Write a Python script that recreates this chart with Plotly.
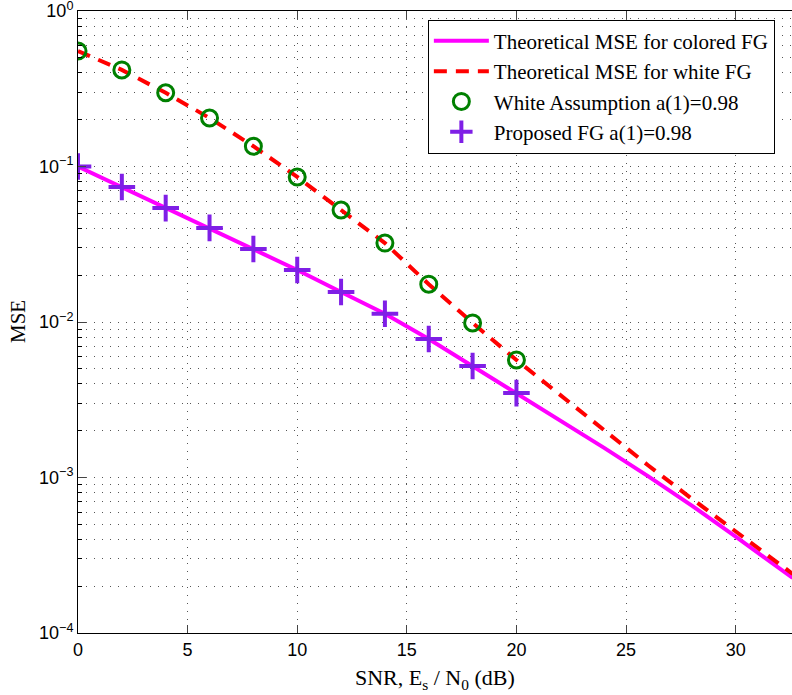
import plotly.graph_objects as go

# ---- data ----
snr_theory = [0, 2, 4, 6, 8, 10, 12, 14, 16, 18, 20, 22, 24, 26, 28, 30, 32, 32.6]
mse_colored_theory = [0.100, 0.0738, 0.0540, 0.0403, 0.0295, 0.0216, 0.0156, 0.0113,
                      0.00778, 0.00521, 0.00349, 0.00234, 0.00155, 0.00102, 0.00066,
                      0.000416, 0.000260, 0.000226]
mse_white_theory = [0.553, 0.418, 0.298, 0.205, 0.135, 0.0857, 0.0525, 0.0322,
                    0.0175, 0.00986, 0.0057, 0.00339, 0.00200, 0.00120, 0.00073,
                    0.000448, 0.000275, 0.000240]

snr_sim = [0, 2, 4, 6, 8, 10, 12, 14, 16, 18, 20]
mse_white_sim = [0.553, 0.418, 0.298, 0.205, 0.135, 0.0857, 0.0525, 0.0322,
                 0.0175, 0.00986, 0.0057]
mse_proposed_sim = [0.100, 0.0738, 0.0540, 0.0403, 0.0295, 0.0216, 0.0156, 0.0113,
                    0.00778, 0.00521, 0.00349]

x_ticks = [0, 5, 10, 15, 20, 25, 30]
y_ticks = [1e-4, 1e-3, 1e-2, 1e-1, 1]
y_tick_text = ["10<sup>−4</sup>", "10<sup>−3</sup>", "10<sup>−2</sup>",
               "10<sup>−1</sup>", "10<sup>0</sup>"]
y_minor = [m * 10 ** e for e in range(-4, 0) for m in range(2, 10)]

names = ["Theoretical MSE for colored FG", "Theoretical MSE for white FG",
         "White Assumption a(1)=0.98", "Proposed FG a(1)=0.98"]

fig = go.Figure()
fig.add_trace(go.Scatter(x=snr_theory, y=mse_colored_theory, mode="lines",
                         name=names[0], line=dict(color="#FF00FF", width=4)))
fig.add_trace(go.Scatter(x=snr_theory, y=mse_white_theory, mode="lines",
                         name=names[1], line=dict(color="#FF0000", width=4, dash="13px,9px")))
fig.add_trace(go.Scatter(x=snr_sim, y=mse_white_sim, mode="markers", name=names[2],
                         marker=dict(symbol="circle-open", size=16, color="#008000",
                                     line=dict(width=3, color="#008000"))))
fig.add_trace(go.Scatter(x=snr_sim, y=mse_proposed_sim, mode="markers", name=names[3],
                         marker=dict(symbol="cross-thin", size=19, color="#7F1FE6",
                                     line=dict(width=4, color="#7F1FE6"))))

grid_dash = "1px,7px"
serif = "Liberation Serif, Times New Roman, serif"
fig.update_layout(
    width=792, height=695,
    margin=dict(l=78, r=0, t=11, b=62),
    paper_bgcolor="white", plot_bgcolor="white",
    font=dict(family="Liberation Sans, Arial, sans-serif", size=17, color="black"),
    showlegend=True,
    legend=dict(x=0.49, y=0.986, xanchor="left", yanchor="top",
                bgcolor="white", bordercolor="black", borderwidth=1,
                font=dict(family=serif, size=21),
                itemwidth=55, tracegroupgap=0),
    xaxis=dict(range=[0, 32.57], tickvals=x_ticks, ticks="inside", ticklen=8,
               showline=True, linecolor="black", linewidth=1, mirror="ticks",
               showgrid=True, gridcolor="#555555", gridwidth=1, griddash=grid_dash,
               zeroline=False, tickfont=dict(size=18)),
    yaxis=dict(type="log", range=[-4, 0], tickvals=y_ticks, ticktext=y_tick_text,
               ticks="inside", ticklen=8, ticklabeloverflow="allow",
               showline=True, linecolor="black", linewidth=1,
               showgrid=True, gridcolor="#555555", gridwidth=1, griddash=grid_dash,
               zeroline=False, tickfont=dict(size=18),
               minor=dict(tickvals=y_minor, ticks="inside", ticklen=4, tickcolor="black",
                          showgrid=True, gridcolor="#555555", gridwidth=1, griddash=grid_dash)),
    annotations=[
        dict(text="SNR, E<sub>s</sub> / N<sub>0</sub> (dB)", xref="paper", yref="paper",
             x=0.5, y=-0.048, xanchor="center", yanchor="top", showarrow=False,
             font=dict(family=serif, size=22)),
        dict(text="MSE", xref="paper", yref="paper", x=-0.084, y=0.5, textangle=-90,
             xanchor="center", yanchor="middle", showarrow=False,
             font=dict(family=serif, size=21)),
    ],
)

fig.write_html("out.html")
